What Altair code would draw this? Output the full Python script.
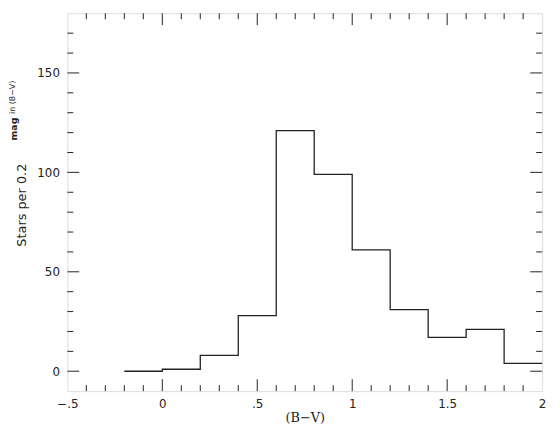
import altair as alt
import pandas as pd

# Histogram: bin edges (B-V) and counts per 0.2 mag bin
bin_edges = [-0.2, 0.0, 0.2, 0.4, 0.6, 0.8, 1.0, 1.2, 1.4, 1.6, 1.8, 2.0]
counts = [0, 1, 8, 28, 121, 99, 61, 31, 17, 21, 4]

x_major = [0.0, 0.5, 1.0, 1.5]
x_minor = [-0.4, -0.3, -0.2, -0.1, 0.1, 0.2, 0.3, 0.4, 0.6, 0.7, 0.8, 0.9,
           1.1, 1.2, 1.3, 1.4, 1.6, 1.7, 1.8, 1.9]
y_major = [0, 50, 100, 150]
y_minor = [10, 20, 30, 40, 60, 70, 80, 90, 110, 120, 130, 140, 160, 170]
x_labels = [-0.5, 0, 0.5, 1, 1.5, 2]

x_title = "(B−V)"
y_title_main = "Stars per 0.2"
y_title_mag = "mag"
y_title_in = "in (B−V)"

W, H = 480, 382
FONT = "DejaVu Sans"
INK = "#222222"

step_df = pd.DataFrame({"x": bin_edges, "y": counts + [counts[-1]]})

xs = alt.Scale(domain=[-0.5, 2.0], nice=False, zero=False)
ys = alt.Scale(domain=[-10, 180], nice=False, zero=False)

label_expr = ("datum.value == -0.5 ? '−.5' : datum.value == 0 ? '0' : "
              "datum.value == 0.5 ? '.5' : datum.value == 1 ? '1' : "
              "datum.value == 1.5 ? '1.5' : '2'")

line = alt.Chart(step_df).mark_line(
    interpolate="step-after", color=INK, strokeWidth=1.3
).encode(
    x=alt.X("x:Q", scale=xs, title=x_title,
            axis=alt.Axis(values=x_labels, ticks=False, domain=False, grid=False,
                          labelFlush=False, labelOverlap=False, labelPadding=8,
                          labelFontSize=12, labelFont=FONT, labelColor=INK,
                          titleFont="DejaVu Serif", titleFontSize=13,
                          titleFontWeight="normal", titleColor=INK, titlePadding=2,
                          labelExpr=label_expr)),
    y=alt.Y("y:Q", scale=ys, title=None,
            axis=alt.Axis(values=y_major, ticks=False, domain=False, grid=False,
                          labelPadding=8, labelFontSize=12, labelFont=FONT,
                          labelColor=INK)),
)

def xticks(vals, y0, y1):
    return alt.Chart(pd.DataFrame({"p": vals})).mark_rule(color=INK, strokeWidth=1).encode(
        x=alt.X("p:Q", scale=xs), y=alt.value(y0), y2=alt.value(y1))

def yticks(vals, x0, x1):
    return alt.Chart(pd.DataFrame({"p": vals})).mark_rule(color=INK, strokeWidth=1).encode(
        y=alt.Y("p:Q", scale=ys), x=alt.value(x0), x2=alt.value(x1))

ticks = [
    xticks(x_major, H, H - 12), xticks(x_minor, H, H - 6),
    xticks(x_major, 0, 12), xticks(x_minor, 0, 6),
    yticks(y_major, 0, 12), yticks(y_minor, 0, 6),
    yticks(y_major, W, W - 12), yticks(y_minor, W, W - 6),
]

title_df = pd.DataFrame({"t": [0]})
t_main = alt.Chart(title_df).mark_text(
    angle=270, font=FONT, fontSize=13, color=INK, align="center", baseline="middle"
).encode(x=alt.value(-46), y=alt.value(194), text=alt.value(y_title_main))
t_mag = alt.Chart(title_df).mark_text(
    angle=270, font=FONT, fontSize=9.5, fontWeight="bold", color=INK,
    align="center", baseline="middle"
).encode(x=alt.value(-54), y=alt.value(117), text=alt.value(y_title_mag))
t_in = alt.Chart(title_df).mark_text(
    angle=270, font=FONT, fontSize=8, color=INK,
    align="center", baseline="middle"
).encode(x=alt.value(-55), y=alt.value(85), text=alt.value(y_title_in))

chart = alt.layer(line, *ticks, t_main, t_mag, t_in).properties(
    width=W, height=H,
    autosize=alt.AutoSizeParams(type="none"),
    padding={"left": 60, "top": 3, "right": 10, "bottom": 40},
).configure_view(stroke=INK, strokeWidth=1.3).configure(background="white")

chart.save("out.html", embed_options={"renderer": "svg", "actions": False})
